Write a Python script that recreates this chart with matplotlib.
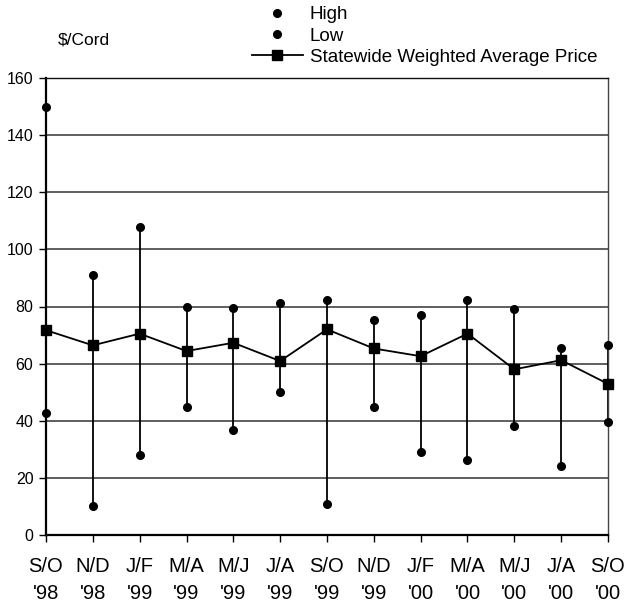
import matplotlib
matplotlib.use("Agg")
import matplotlib.pyplot as plt
from matplotlib.lines import Line2D

plt.rcParams['font.family'] = ['Liberation Sans', 'DejaVu Sans']

categories = ["S/O\n'98", "N/D\n'98", "J/F\n'99", "M/A\n'99", "M/J\n'99", "J/A\n'99",
              "S/O\n'99", "N/D\n'99", "J/F\n'00", "M/A\n'00", "M/J\n'00", "J/A\n'00", "S/O\n'00"]
high = [150, 91, 108, 80, 79.6, 81.3, 82.3, 75.1, 76.9, 82.3, 79.1, 65.3, 66.5]
low = [42.7, 10, 27.9, 44.8, 36.9, 50.1, 11, 44.8, 29.1, 26.2, 38.2, 24, 39.4]
average = [71.7, 66.4, 70.5, 64.4, 67.3, 60.9, 72, 65.3, 62.6, 70.5, 58, 61.2, 52.9]
yticks = [0, 20, 40, 60, 80, 100, 120, 140, 160]

fig = plt.figure(figsize=(6.29, 6.08), dpi=100)
ax = fig.add_axes([46/629, 1-535/608, (608-46)/629, (535-78)/608])

x = list(range(len(categories)))
for v in yticks[1:-1]:
    ax.axhline(v, color='#333333', lw=1.1, zorder=1)

ax.vlines(x, low, high, color='black', lw=1.3, zorder=2)
ax.plot(x, high, 'o', color='black', ms=5.5, zorder=3, clip_on=False)
ax.plot(x, low, 'o', color='black', ms=5.5, zorder=3, clip_on=False)
ax.plot(x, average, '-s', color='black', lw=1.3, ms=7.5, zorder=4, clip_on=False)

ax.set_xlim(0, 12)
ax.set_ylim(0, 160)
ax.set_yticks(yticks)
ax.set_xticks(x)
ax.set_xticklabels(categories, linespacing=1.55)
ax.tick_params(axis='x', direction='out', length=5, width=1, pad=11, labelsize=14.5)
ax.tick_params(axis='y', direction='out', length=5, width=1, pad=4, labelsize=11.5)
for s in ['left', 'bottom']:
    ax.spines[s].set_linewidth(1.6)
ax.spines['top'].set_linewidth(1.0)
ax.spines['top'].set_color('#111111')
ax.spines['right'].set_linewidth(1.0)
ax.spines['right'].set_color('#444444')

fig.text(58/629, 1-40/608, '$/Cord', fontsize=12.5, va='center', ha='left')

handles = [Line2D([], [], ls='none', marker='o', color='black', ms=5.5),
           Line2D([], [], ls='none', marker='o', color='black', ms=5.5),
           Line2D([], [], ls='-', marker='s', color='black', lw=1.3, ms=6.5)]
labels = ['High', 'Low', 'Statewide Weighted Average Price']
fig.legend(handles, labels, loc='upper left', bbox_to_anchor=(252/629, 1-6/608),
           frameon=False, fontsize=13.5, labelspacing=0.23, handlelength=2.7,
           handletextpad=0.37, borderpad=0, borderaxespad=0)

fig.savefig('out.png', dpi=100)
